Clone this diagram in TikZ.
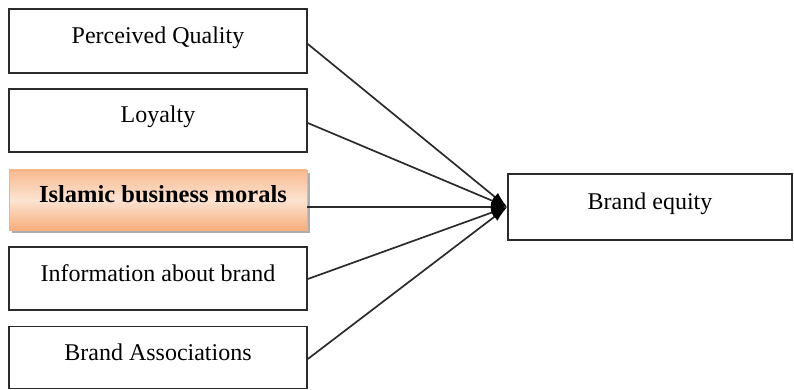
\documentclass[tikz,border=0pt]{standalone}
\usepackage{fontspec}
\setmainfont{Liberation Serif}
\usetikzlibrary{arrows.meta,shadows}
\definecolor{edgegray}{HTML}{2B2B2B}
\definecolor{orangeA}{HTML}{F6AE7C}
\definecolor{orangeB}{HTML}{FCE3D2}
\definecolor{orangeEdge}{HTML}{F4B183}
\begin{document}
\begin{tikzpicture}[x=1pt,y=-1pt,
  box/.style={draw=edgegray,line width=1.6pt,minimum width=298pt,inner sep=0pt,
    font=\fontsize{24}{26}\selectfont,text height=21pt,text depth=16pt},
  hlbox/.style={draw=orangeEdge,line width=0.8pt,minimum width=298pt,inner sep=0pt,
    font=\bfseries\fontsize{24.5}{26}\selectfont,text height=21pt,text depth=16pt,
    top color=orangeA!85,bottom color=orangeA,middle color=orangeB,
    drop shadow={shadow xshift=3pt,shadow yshift=-3pt,fill=black!40,opacity=0.8}},
  link/.style={draw=edgegray,line width=1.7pt,
    -{Latex[length=16pt,width=10pt,color=black]}}]
\useasboundingbox (0,0) rectangle (794,390);
\node[box,minimum height=64pt] (pq) at (158,41) {Perceived Quality};
\node[box,minimum height=63pt] (loy) at (158,120.5) {Loyalty};
\node[hlbox,minimum height=60pt] (isl) at (158,200) {\hspace*{10pt}Islamic business morals};
\node[box,minimum height=63pt] (info) at (158,278.5) {Information about brand};
\node[box,minimum height=62pt] (ba) at (158,357.5) {Brand Associations};
\node[box,minimum width=284pt,minimum height=66pt] (be) at (650,207) {Brand equity};
\coordinate (tip) at (be.west);
\draw[link] (pq.east |- 0,44) -- (tip);
\draw[link] (loy.east |- 0,123) -- (tip);
\draw[link] (isl.east |- 0,207) -- (tip);
\draw[link] (info.east |- 0,279) -- (tip);
\draw[link] (ba.east |- 0,359) -- (tip);
\end{tikzpicture}
\end{document}
